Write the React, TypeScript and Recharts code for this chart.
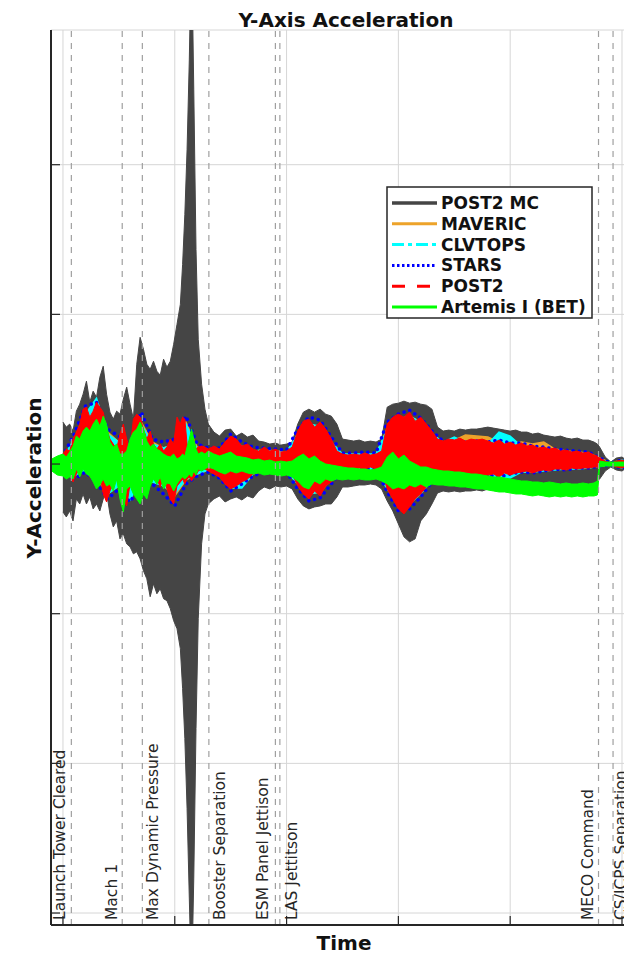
import {
  ComposedChart,
  Area,
  XAxis,
  YAxis,
  CartesianGrid,
  ReferenceLine,
} from "recharts";

// dense time base for the main traces (s after liftoff)
const seconds = [
  -10, -5,
  0, 3, 6, 9, 12, 15, 18, 21, 24, 27, 30, 33,
  36, 39, 42, 45, 48, 51, 54, 57, 60, 63, 66, 69,
  72, 75, 78, 81, 84, 87, 90, 93, 96, 99, 102, 105,
  107, 109, 111, 113, 115, 117, 119, 121, 124, 127, 130,
  135, 140, 145, 150, 155, 160, 165, 170, 175, 180, 185, 190, 195, 200, 205, 210, 215, 220, 225, 230,
  235, 240, 245, 250, 255, 260, 265, 270, 275, 280, 285, 290, 295, 300, 305, 310, 315, 320, 325, 330,
  335, 340, 345, 350, 355, 360, 365, 370, 375, 380, 385, 390, 395, 400, 405, 410, 415, 420, 425, 430,
  435, 440, 445, 450, 455, 460, 465, 470, 475,
  478, 480, 485, 490, 495, 500, 505, 510, 515,
];

// POST2 Monte Carlo dispersion envelope
const mcHigh = [
  null, null,
  42, 37, 40, 33, 53, 60, 70, 83, 62, 73, 67, 87,
  98, 70, 52, 45, 53, 50, 65, 77, 60, 45, 100, 127,
  115, 100, 95, 103, 93, 89, 105, 97, 103, 120, 140, 160,
  200, 250, 315, 405, 525, 375, 215, 125, 80, 55, 40,
  32, 28, 34, 35, 28, 31, 27, 29, 23, 22, 20, 21, 19, 20, 22, 40, 52, 55, 52, 55,
  50, 48, 40, 25, 24, 23, 24, 22, 23, 22, 25, 57, 60, 61, 63, 61, 62, 60, 59, 55,
  37, 33, 34, 33, 35, 34, 35, 35, 36, 37, 36, 35, 34, 33, 34, 32, 32, 30, 31, 29,
  28, 27, 28, 26, 25, 26, 24, 24, 22,
  20, 17, 7, 2, 6, 7, 3, 2, 2,
];
const mcLow = [
  null, null,
  -48, -53, -47, -57, -35, -40, -30, -40, -33, -45, -40, -47,
  -35, -28, -50, -63, -57, -75, -70, -80, -83, -90, -88, -95,
  -107, -115, -133, -120, -130, -125, -135, -137, -145, -157, -165, -185,
  -225, -275, -345, -435, -525, -415, -265, -155, -80, -50, -40,
  -35, -32, -38, -35, -33, -36, -32, -34, -27, -23, -25, -22, -23, -22, -25, -35, -42, -45, -43, -42,
  -40, -40, -33, -23, -23, -22, -21, -21, -20, -21, -25, -37, -47, -60, -73, -78, -75, -57, -50, -40,
  -29, -27, -28, -27, -28, -27, -27, -26, -27, -25, -26, -25, -25, -24, -25, -24, -24, -23, -24, -23,
  -23, -22, -23, -22, -21, -22, -21, -20, -19,
  -17, -15, -7, -3, -6, -7, -3, -2, -2,
];

// POST2 nominal
const post2High = [
  4, 3,
  10, 15, 13, 25, 32, 40, 55, 57, 47, 53, 62, 57,
  52, 35, 25, 20, 15, 30, 40, 25, 15, 45, 50, 47,
  35, 25, 33, 20, 15, 20, 13, 17, 25, 20, 47, 40,
  47, 45, 20, 15, 20, 25, 15, 17, 18, 17, 15,
  18, 15, 22, 28, 25, 18, 20, 15, 13, 17, 13, 15, 12, 13, 17, 33, 43, 45, 37, 42,
  35, 25, 13, 10, 9, 10, 9, 11, 9, 10, 13, 40, 47, 50, 47, 52, 43, 47, 40, 33,
  25, 23, 25, 24, 26, 23, 25, 24, 25, 23, 21, 24, 20, 22, 19, 21, 18, 19, 16, 17,
  15, 16, 13, 14, 12, 13, 11, 12, 9,
  8, 6, 3, 1, 3, 4, 2, 1, 1,
];
const post2Low = [
  -3, -4,
  -7, -13, -5, -18, -10, -5, -3, -7, -13, -5, -15, -10,
  -30, -38, -27, -20, -15, -25, -35, -42, -20, -15, -22, -13,
  -17, -10, -18, -12, -15, -23, -13, -25, -35, -40, -22, -18,
  -15, -20, -15, -13, -17, -13, -11, -7, -5, -5, -7,
  -10, -13, -20, -25, -22, -18, -15, -10, -9, -7, -8, -5, -8, -7, -10, -22, -30, -35, -27, -32,
  -22, -18, -13, -7, -5, -5, -4, -5, -3, -5, -7, -25, -35, -45, -50, -43, -35, -30, -23, -17,
  -12, -9, -10, -11, -10, -12, -11, -12, -13, -11, -10, -13, -9, -11, -9, -8, -7, -9, -7, -6,
  -7, -5, -5, -6, -4, -5, -4, -4, -3,
  -3, -2, -1, -1, -3, -4, -2, -1, -1,
];

// Artemis I best estimated trajectory
const betHigh = [
  5, 8,
  10, 7, 12, 18, 28, 25, 33, 37, 33, 40, 45, 38,
  48, 40, 22, 17, 20, 10, 10, 13, 25, 32, 35, 42,
  35, 23, 17, 20, 15, 13, 10, 8, 7, 10, 5, 7,
  10, 8, 17, 25, 35, 25, 15, 10, 12, 10, 13,
  10, 8, 10, 12, 8, 7, 6, 4, 5, 3, 4, 2, 3, 2, 3, 7, 10, 5, 8, 3,
  0, -1, -2, -3, -4, -4, -5, -5, -6, -5, -3, 7, 12, 5, 9, 3, 0, -3, -3, -5,
  -6, -7, -7, -8, -8, -9, -10, -10, -11, -12, -13, -13, -14, -15, -16, -17, -17, -18, -18, -19,
  -18, -19, -20, -19, -20, -20, -19, -20, -19,
  -17, 3, 2, 2, 2, 2, 2, 2, 2,
];
const betLow = [
  -7, -11,
  -12, -15, -13, -15, -5, -13, -5, -10, -12, -18, -25, -21,
  -15, -22, -20, -27, -15, -35, -48, -25, -22, -30, -35, -40,
  -30, -35, -22, -15, -20, -13, -25, -19, -20, -27, -20, -15,
  -13, -15, -13, -10, -13, -7, -11, -5, -7, -5, -3,
  -5, -8, -10, -7, -9, -7, -9, -10, -9, -11, -10, -11, -12, -11, -13, -17, -23, -25, -17, -20,
  -15, -17, -15, -16, -15, -16, -15, -16, -16, -15, -17, -20, -25, -23, -25, -21, -23, -20, -23, -20,
  -21, -21, -22, -22, -23, -23, -24, -25, -25, -26, -27, -28, -28, -29, -30, -30, -31, -32, -31, -32,
  -33, -32, -33, -32, -33, -32, -33, -32, -32,
  -31, -3, -2, -2, -2, -2, -2, -2, -2,
];

// coarser time base for the other simulation tools
const coarseSeconds = [
  -10, 0, 10, 20, 30, 40, 50, 60, 70, 80, 90, 100,
  110, 120, 130, 140, 150, 160, 170, 180, 190, 200, 210, 220,
  230, 240, 250, 260, 270, 280, 290, 300, 310, 320, 330, 340,
  350, 360, 370, 380, 390, 400, 410, 420, 430, 440, 450, 460,
  470, 480, 490, 500, 510,
];
const mavericHigh = [
  2, 6, 24, 50, 55, 32, 22, 18, 42, 22, 16, 20,
  42, 17, 13, 13, 24, 17, 13, 14, 13, 12, 30, 40,
  37, 22, 9, 9, 9, 9, 36, 45, 48, 42, 30, 22,
  24, 29, 28, 27, 22, 20, 22, 20, 22, 15, 13, 12,
  11, 6, 1, 3, 1,
];
const mavericLow = [
  -2, -6, -12, -6, -14, -30, -22, -30, -15, -16, -22, -32,
  -16, -10, -6, -11, -22, -16, -9, -6, -5, -7, -20, -30,
  -28, -15, -6, -5, -5, -5, -22, -40, -40, -28, -15, -10,
  -10, -11, -11, -10, -11, -10, -8, -8, -6, -5, -5, -4,
  -4, -2, -1, -3, -1,
];
const clvtopsHigh = [
  2, 6, 25, 50, 66, 30, 22, 18, 40, 20, 16, 20,
  40, 15, 12, 13, 25, 18, 13, 14, 13, 12, 30, 40,
  38, 22, 10, 10, 10, 10, 35, 45, 48, 42, 30, 22,
  27, 22, 20, 20, 32, 28, 18, 16, 15, 14, 12, 11,
  10, 5, 1, 4, 1,
];
const clvtopsLow = [
  -2, -6, -12, -6, -12, -30, -22, -36, -15, -18, -22, -30,
  -15, -10, -6, -10, -24, -24, -10, -7, -6, -7, -20, -30,
  -28, -15, -6, -5, -5, -5, -25, -40, -40, -30, -16, -9,
  -10, -10, -12, -10, -15, -14, -8, -8, -7, -6, -5, -5,
  -4, -2, -1, -4, -1,
];
const starsHigh = [
  3, 8, 30, 58, 62, 35, 28, 20, 52, 25, 22, 25,
  48, 20, 16, 16, 30, 22, 17, 16, 15, 14, 35, 47,
  44, 27, 11, 11, 12, 11, 42, 50, 54, 46, 33, 23,
  23, 22, 23, 22, 24, 21, 21, 18, 17, 15, 14, 13,
  12, 6, 1, 4, 1,
];
const starsLow = [
  -3, -8, -15, -8, -18, -35, -25, -38, -20, -20, -30, -42,
  -20, -12, -8, -14, -27, -20, -12, -8, -6, -8, -25, -37,
  -34, -20, -6, -5, -5, -5, -28, -47, -45, -33, -18, -10,
  -11, -12, -12, -11, -13, -10, -8, -9, -7, -5, -6, -4,
  -4, -2, -1, -4, -1,
];

const timeTicks = [0, 100, 200, 300, 400, 500];
const accelTicks = [-450, -300, -150, 0, 150, 300];

const eventNames = [
  "Launch Tower Cleared",
  "Mach 1",
  "Max Dynamic Pressure",
  "Booster Separation",
  "ESM Panel Jettison",
  "LAS Jettitson",
  "MECO Command",
  "CS/ICPS Separation",
];
const eventSeconds = [7.5, 53, 71, 130.5, 190, 194, 479, 492];

const pair = (lo: (number | null)[], hi: (number | null)[], i: number) =>
  lo[i] == null || hi[i] == null ? null : [lo[i], hi[i]];

const denseRows = seconds.map((t, i) => ({
  t,
  mc: pair(mcLow, mcHigh, i),
  post2: pair(post2Low, post2High, i),
  bet: pair(betLow, betHigh, i),
}));

const sparseRows = coarseSeconds.map((t, i) => ({
  t,
  maveric: pair(mavericLow, mavericHigh, i),
  clvtops: pair(clvtopsLow, clvtopsHigh, i),
  stars: pair(starsLow, starsHigh, i),
}));

// legend / series look
const legendItems = [
  { name: "POST2 MC", color: "#454545", width: 3.5, dash: undefined },
  { name: "MAVERIC", color: "#eda32a", width: 3, dash: undefined },
  { name: "CLVTOPS", color: "#00ffff", width: 3, dash: "12 4 4 4" },
  { name: "STARS", color: "#0000ff", width: 3, dash: "2.5 2.5" },
  { name: "POST2", color: "#ff0000", width: 3, dash: "13 12" },
  { name: "Artemis I (BET)", color: "#00ff00", width: 3, dash: undefined },
];

// label side of each event line (px from the line)
const labelShift = [-11, -10, 11, 11, -12, 12, -11, 8];

const FONT = "DejaVu Sans";
const GRID = "#d6d6d6";

function eventLabel(name: string, dx: number) {
  return (props: any) => {
    const vb = props.viewBox || {};
    const cx = (vb.x ?? 0) + dx;
    const y0 = (vb.y ?? 30) + (vb.height ?? 895) - 5;
    return (
      <text
        x={cx}
        y={y0}
        transform={`rotate(-90 ${cx} ${y0})`}
        textAnchor="start"
        dominantBaseline="central"
        fontFamily={FONT}
        fontSize={15.5}
        fill="#262626"
      >
        {name}
      </text>
    );
  };
}

// axes carry tick marks only, no numbers
const noTickLabel = () => <g />;

export default function App() {
  return (
    <div
      style={{
        position: "fixed",
        left: 0,
        top: 0,
        width: 624,
        height: 956,
        overflow: "hidden",
        background: "#fff",
      }}
    >
      <ComposedChart
        width={660}
        height={956}
        data={denseRows}
        margin={{ top: 30, right: 19, bottom: 30, left: 50 }}
      >
        <CartesianGrid stroke={GRID} strokeWidth={1} />
        <XAxis
          type="number"
          dataKey="t"
          domain={[-10.7, 517]}
          ticks={timeTicks}
          allowDataOverflow
          tick={noTickLabel}
          height={1}
          tickSize={-9}
          axisLine={{ stroke: "#262626", strokeWidth: 2 }}
          tickLine={{ stroke: "#262626", strokeWidth: 1.2 }}
        />
        <YAxis
          type="number"
          domain={[-462, 435]}
          ticks={accelTicks}
          allowDataOverflow
          tick={noTickLabel}
          width={1}
          tickSize={-9}
          axisLine={{ stroke: "#262626", strokeWidth: 2 }}
          tickLine={{ stroke: "#262626", strokeWidth: 1.2 }}
        />

        <Area
          dataKey="mc"
          type="linear"
          fill="#454545"
          fillOpacity={1}
          stroke="#454545"
          strokeWidth={1}
          isAnimationActive={false}
        />
        <Area
          data={sparseRows}
          dataKey="maveric"
          type="linear"
          fill="#eda32a"
          fillOpacity={1}
          stroke="#eda32a"
          strokeWidth={1.5}
          isAnimationActive={false}
        />
        <Area
          data={sparseRows}
          dataKey="clvtops"
          type="linear"
          fill="#00ffff"
          fillOpacity={1}
          stroke="#00ffff"
          strokeWidth={1.5}
          isAnimationActive={false}
        />
        <Area
          data={sparseRows}
          dataKey="stars"
          type="linear"
          fill="none"
          stroke="#0000ff"
          strokeWidth={3.5}
          strokeDasharray="0.1 6"
          strokeLinecap="round"
          isAnimationActive={false}
        />
        <Area
          dataKey="post2"
          type="linear"
          fill="#ff0000"
          fillOpacity={1}
          stroke="#ff0000"
          strokeWidth={1}
          isAnimationActive={false}
        />
        <Area
          dataKey="bet"
          type="linear"
          fill="#00ff00"
          fillOpacity={1}
          stroke="#00ff00"
          strokeWidth={1}
          isAnimationActive={false}
        />

        {eventNames.map((name, i) => (
          <ReferenceLine
            key={name}
            x={eventSeconds[i]}
            stroke="#a0a0a0"
            strokeWidth={1.2}
            strokeDasharray="6 6"
            label={eventLabel(name, labelShift[i])}
          />
        ))}
      </ComposedChart>

      {/* title, axis titles and legend */}
      <svg
        width={624}
        height={956}
        fontFamily={FONT}
        style={{ position: "absolute", left: 0, top: 0, pointerEvents: "none" }}
      >
        <text x={346} y={27} textAnchor="middle" fontWeight="bold" fontSize={20} fill="#111">
          Y-Axis Acceleration
        </text>
        <text x={344} y={950} textAnchor="middle" fontWeight="bold" fontSize={20} fill="#111">
          Time
        </text>
        <text
          x={34}
          y={478}
          transform="rotate(-90 34 478)"
          textAnchor="middle"
          dominantBaseline="central"
          fontWeight="bold"
          fontSize={20}
          fill="#111"
        >
          Y-Acceleration
        </text>

        <rect x={387} y={187} width={205} height={131} fill="#fff" stroke="#262626" strokeWidth={1.5} />
        {legendItems.map((s, i) => {
          const y = 203 + i * 20.8;
          return (
            <g key={s.name}>
              <line
                x1={392}
                x2={437}
                y1={y}
                y2={y}
                stroke={s.color}
                strokeWidth={s.width}
                strokeDasharray={s.dash}
              />
              <text x={441} y={y} dominantBaseline="central" fontWeight="bold" fontSize={17} fill="#111">
                {s.name}
              </text>
            </g>
          );
        })}
      </svg>
    </div>
  );
}
